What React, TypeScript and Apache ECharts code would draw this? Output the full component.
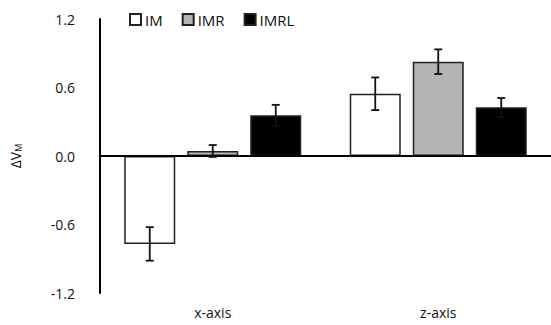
import React, { useEffect, useRef } from "react";
import * as echarts from "echarts";

const categories = ["x-axis", "z-axis"];
const seriesNames = ["IM", "IMR", "IMRL"];
const imValues = [-0.77, 0.545];
const imrValues = [0.044, 0.826];
const imrlValues = [0.356, 0.426];
const imErrors = [0.147, 0.143];
const imrErrors = [0.052, 0.108];
const imrlErrors = [0.092, 0.082];
const yTicks = [-1.2, -0.6, 0.0, 0.6, 1.2];

const fills = ["#ffffff", "#b4b4b4", "#000000"];
const BAR_W = 51;
const GAP_PX = 12;

export default function App() {
  const ref = useRef<HTMLDivElement>(null);
  useEffect(() => {
    if (!ref.current) return;
    const chart = echarts.init(ref.current, null, { renderer: "svg" });
    const values = [imValues, imrValues, imrlValues];
    const errors = [imErrors, imrErrors, imrlErrors];
    const font = "'Open Sans', 'Noto Sans', sans-serif";

    const barSeries: any[] = seriesNames.map((name, i) => ({
      name,
      type: "bar",
      data: values[i],
      barWidth: BAR_W,
      barGap: (GAP_PX / BAR_W) * 100 + "%",
      itemStyle: { color: fills[i], borderColor: "#222", borderWidth: 1.5 },
      ...(i === 0
        ? {
            markLine: {
              silent: true,
              symbol: "none",
              label: { show: false },
              lineStyle: { color: "#000", width: 2, type: "solid" },
              data: [{ yAxis: 0 }],
              z: 5,
            },
          }
        : {}),
    }));

    const errSeries: any[] = seriesNames.map((name, i) => {
      const offset = (i - 1) * (BAR_W + GAP_PX);
      return {
        type: "custom",
        silent: true,
        z: 10,
        data: values[i].map((v, k) => [k, v, errors[i][k]]),
        renderItem: (params: any, api: any) => {
          const c = api.value(0);
          const v = api.value(1);
          const e = api.value(2);
          const top = api.coord([c, v + e]);
          const bot = api.coord([c, v - e]);
          const x = top[0] + offset;
          const cap = 4;
          const style = { stroke: "#111", lineWidth: 1.8 };
          return {
            type: "group",
            children: [
              { type: "line", shape: { x1: x, y1: top[1], x2: x, y2: bot[1] }, style },
              { type: "line", shape: { x1: x - cap, y1: top[1], x2: x + cap, y2: top[1] }, style },
              { type: "line", shape: { x1: x - cap, y1: bot[1], x2: x + cap, y2: bot[1] }, style },
            ],
          };
        },
      };
    });

    chart.setOption({
      animation: false,
      backgroundColor: "#fff",
      textStyle: { fontFamily: font },
      legend: {
        data: seriesNames,
        left: 124,
        top: 7,
        itemWidth: 11,
        itemHeight: 11,
        itemGap: 19,
        icon: "rect",
        textStyle: { fontSize: 15, color: "#111", fontFamily: font, padding: [0, 0, 0, -1] },
      },
      grid: { left: 100, right: -5, top: 19, bottom: 32 },
      xAxis: {
        type: "category",
        data: categories,
        axisLine: { show: false },
        axisTick: { show: false },
        axisLabel: { fontSize: 14, color: "#111", margin: 12, fontFamily: font },
      },
      yAxis: {
        type: "value",
        min: yTicks[0],
        max: yTicks[yTicks.length - 1],
        interval: 0.6,
        splitLine: { show: false },
        axisTick: { show: false },
        axisLine: { show: true, lineStyle: { color: "#000", width: 2 } },
        axisLabel: {
          fontSize: 14,
          color: "#111",
          margin: 25,
          fontFamily: font,
          formatter: (v: number) => v.toFixed(1),
        },
        name: "ΔV{sub|M}",
        nameLocation: "middle",
        nameGap: 77,
        nameRotate: 90,
        nameTextStyle: {
          fontSize: 14,
          color: "#111",
          fontFamily: font,
          rich: { sub: { fontSize: 9, verticalAlign: "bottom", padding: [6, 0, 0, 0], color: "#111" } },
        },
      },
      series: [...barSeries, ...errSeries],
    });
    return () => chart.dispose();
  }, []);
  return (
    <div
      ref={ref}
      style={{ position: "absolute", left: 0, top: 0, width: 551, height: 325 }}
    />
  );
}
